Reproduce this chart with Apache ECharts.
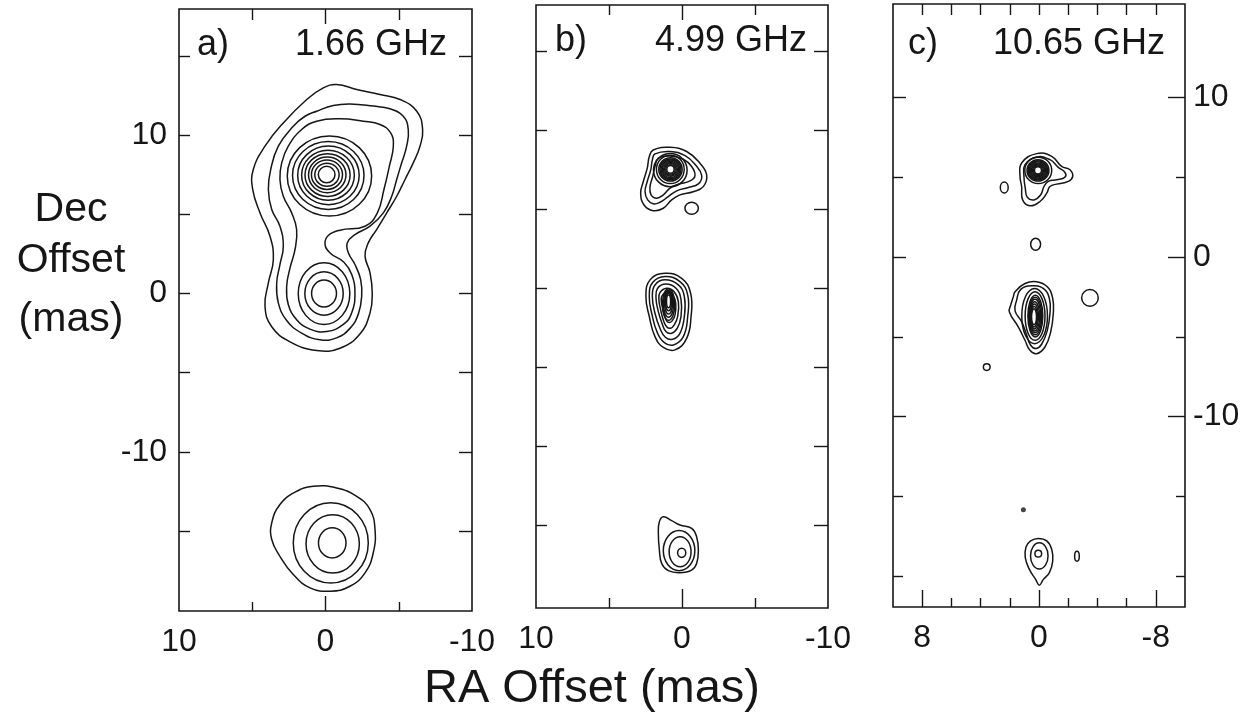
<!DOCTYPE html>
<html>
<head>
<meta charset="utf-8">
<script src="https://cdn.jsdelivr.net/npm/echarts@6/dist/echarts.min.js"></script>
<style>
  html, body { margin: 0; padding: 0; background: #ffffff; }
  #chart { width: 1249px; height: 717px; }
</style>
</head>
<body>
<div id="chart"></div>
<script>
// ---------- data (RA / Dec offsets in mas) ----------

// panel titles
const panelTags = ['a)', 'b)', 'c)'];
const panelFreqs = ['1.66 GHz', '4.99 GHz', '10.65 GHz'];

// tick values and labels
const raLabelsAB = [10, 0, -10];
const raTicksMajorAB = [0];
const raTicksMinorAB = [5, -5];
const raLabelsC = [8, 0, -8];
const raTicksMajorC = [8, 0, -8];
const raTicksMinorC = [6, 4, 2, -2, -4, -6];
const raTicksTopC = [8, 6, 4, 2, 0, -2, -4, -6, -8];
const decLabels = [10, 0, -10];
const decTicksAB = [15, 10, 5, 0, -5, -10, -15];
const decTicksMajorC = [10, 0, -10];
const decTicksMinorC = [5, -5, -15, -20];

// 1.66 GHz: irregular contours
const aContourPaths = [
  [[-0.76,13.19],[-2.13,12.88],[-3.72,12.56],[-5.09,12.25],[-6.23,11.51],[-6.63,10.35],[-6.45,9.30],[-5.99,8.25],[-5.43,7.20],[-4.86,6.14],[-4.18,5.09],[-3.49,4.04],[-2.92,3.20],[-2.70,2.36],[-3.04,1.31],[-3.19,0.04],[-3.04,-1.22],[-2.35,-2.55],[-0.99,-3.45],[0.60,-3.60],[2.42,-3.05],[3.67,-2.10],[4.13,-0.80],[3.90,0.67],[3.56,2.15],[3.79,3.62],[4.47,5.09],[4.97,6.57],[4.93,7.83],[4.13,9.30],[2.88,10.77],[1.28,12.25],[0.15,12.98]],
  [[0.60,11.51],[-0.53,11.87],[-1.67,11.97],[-3.26,11.83],[-4.40,11.66],[-5.31,11.19],[-5.65,10.35],[-5.54,9.30],[-5.20,8.25],[-4.86,7.20],[-4.52,6.14],[-3.95,5.09],[-3.04,4.25],[-2.01,3.72],[-1.49,3.20],[-1.56,2.57],[-2.01,1.83],[-2.40,0.88],[-2.47,-0.17],[-2.24,-1.30],[-1.67,-2.20],[-0.76,-2.80],[0.38,-2.92],[1.63,-2.50],[2.65,-1.70],[3.22,-0.59],[3.33,0.67],[3.11,1.83],[2.88,2.99],[3.11,4.25],[3.67,5.30],[3.90,6.57],[3.74,7.83],[3.22,9.30],[2.20,10.56],[1.40,11.19]],
  [[0.60,10.88],[-0.99,11.03],[-2.58,10.88],[-3.72,10.67],[-4.45,10.14],[-4.63,9.30],[-4.36,8.04],[-3.99,6.57],[-3.54,5.09],[-2.70,4.25],[-0.99,4.00],[-0.19,3.66],[0.03,3.09],[-0.35,2.53],[-1.26,1.98],[-1.79,1.20],[-2.01,0.04],[-1.79,-1.22],[-1.22,-1.95],[-0.08,-2.40],[1.06,-2.25],[1.97,-1.65],[2.54,-0.69],[2.65,0.46],[2.42,1.62],[2.08,2.78],[1.97,4.04],[2.31,5.09],[2.88,6.14],[3.11,7.20],[2.99,8.25],[2.54,9.30],[1.63,10.35]],
  [[0.83,-12.16],[-0.76,-12.27],[-2.13,-12.80],[-3.04,-13.64],[-3.38,-14.90],[-3.26,-16.37],[-2.70,-17.63],[-1.67,-18.48],[-0.31,-18.79],[1.06,-18.58],[2.20,-17.74],[3.11,-16.59],[3.67,-15.53],[3.67,-14.48],[3.11,-13.32],[2.08,-12.54]]
];
// 1.66 GHz: closed rings [centre RA, centre Dec, half-width RA, half-height Dec]
const aRings = [
  [-0.27,7.42,2.88,2.53],[-0.19,7.45,2.44,2.14],[-0.20,7.46,2.10,1.85],[-0.17,7.47,1.80,1.58],
  [-0.14,7.48,1.54,1.35],[-0.12,7.49,1.28,1.13],[-0.10,7.50,1.06,0.93],[-0.10,7.50,0.83,0.73],
  [-0.08,7.51,0.57,0.52],
  [0.10,0.00,1.76,1.95],[0.10,0.00,1.31,1.37],[0.10,0.00,0.85,0.85],
  [-0.36,-15.74,2.56,2.53],[-0.49,-15.80,1.82,1.84],[-0.46,-15.74,0.94,0.95]
];
const aDots = [];

// 4.99 GHz
const bContourPaths = [
  [[1.97,8.73],[0.82,8.90],[-0.32,8.63],[-1.23,7.89],[-1.69,7.15],[-1.46,6.41],[-0.77,6.09],[0.14,5.89],[0.71,5.57],[1.28,5.04],[1.97,4.89],[2.60,5.25],[2.83,5.99],[2.65,6.73],[2.38,7.58],[2.24,8.31]],
  [[1.85,8.48],[0.82,8.63],[-0.21,8.37],[-0.96,7.74],[-1.35,7.11],[-1.12,6.58],[-0.43,6.35],[0.36,6.14],[0.94,5.78],[1.51,5.42],[1.97,5.32],[2.35,5.57],[2.53,6.09],[2.38,6.73],[2.14,7.47],[2.03,8.10]],
  [[1.62,8.21],[0.82,8.35],[-0.09,8.14],[-0.66,7.68],[-0.89,7.11],[-0.55,6.77],[0.25,6.56],[0.82,6.31],[1.28,5.89],[1.73,5.68],[2.12,5.89],[2.19,6.41],[2.01,7.04],[1.85,7.68]],
  [[2.19,0.51],[1.16,0.93],[0.02,0.61],[-0.59,-0.34],[-0.62,-1.81],[-0.32,-3.19],[0.48,-3.92],[1.28,-3.76],[1.85,-3.08],[2.24,-1.81],[2.47,-0.55]],
  [[2.01,0.34],[1.16,0.72],[0.14,0.40],[-0.39,-0.44],[-0.39,-1.81],[-0.09,-3.08],[0.59,-3.61],[1.21,-3.46],[1.69,-2.83],[2.05,-1.71],[2.24,-0.55]],
  [[1.85,0.19],[1.16,0.51],[0.25,0.19],[-0.16,-0.55],[-0.16,-1.81],[0.14,-2.87],[0.64,-3.25],[1.14,-3.12],[1.51,-2.55],[1.85,-1.60],[2.03,-0.55]],
  [[1.67,-0.02],[1.10,0.25],[0.41,-0.02],[0.07,-0.72],[0.07,-1.81],[0.32,-2.55],[0.71,-2.87],[1.10,-2.76],[1.37,-2.24],[1.62,-1.50],[1.78,-0.65]],
  [[1.51,-0.30],[1.05,-0.02],[0.55,-0.23],[0.25,-0.87],[0.30,-1.81],[0.53,-2.34],[0.78,-2.55],[1.05,-2.45],[1.28,-2.03],[1.46,-1.39],[1.58,-0.76]],
  [[1.37,-0.51],[1.00,-0.23],[0.64,-0.44],[0.43,-0.97],[0.48,-1.71],[0.66,-2.07],[0.87,-2.19],[1.05,-2.09],[1.21,-1.71],[1.35,-1.18],[1.42,-0.80]],
  [[1.55,-14.79],[1.28,-14.47],[0.71,-14.72],[0.14,-15.00],[-0.66,-15.21],[-1.00,-15.74],[-1.12,-16.58],[-1.00,-17.43],[-0.66,-17.85],[0.14,-18.02],[0.94,-17.89],[1.39,-17.43],[1.55,-16.58],[1.62,-15.53]]
];
const bRings = [
  [0.80,7.45,1.15,1.05],[0.80,7.50,0.95,0.90],
  [0.79,7.50,0.80,0.74],[0.79,7.50,0.72,0.66],[0.79,7.50,0.64,0.59],[0.79,7.50,0.56,0.52],
  [0.79,7.50,0.48,0.44],[0.79,7.50,0.40,0.37],[0.79,7.50,0.32,0.30],[0.79,7.50,0.25,0.24],
  [-0.66,5.04,0.46,0.38],
  [0.92,-1.05,0.42,1.00],[0.92,-1.00,0.35,0.85],[0.92,-0.95,0.28,0.70],[0.92,-0.90,0.21,0.55],[0.92,-0.85,0.14,0.40],
  [0.20,-16.62,1.08,1.27],[0.13,-16.69,0.75,0.95],[0.02,-16.76,0.28,0.29]
];
const bDots = [];

// 10.65 GHz
const cContourPaths = [
  [[1.19,5.89],[0.16,6.48],[-0.87,6.31],[-1.55,5.68],[-2.12,5.47],[-2.31,5.05],[-2.01,4.74],[-1.21,4.57],[-0.75,4.42],[-0.53,4.00],[-0.07,3.48],[0.62,3.21],[1.12,3.58],[1.19,4.42],[1.30,5.05]],
  [[0.96,5.79],[0.16,6.27],[-0.75,6.10],[-1.32,5.62],[-1.78,5.30],[-1.78,5.01],[-1.21,4.84],[-0.64,4.74],[-0.34,4.42],[-0.12,3.90],[0.34,3.58],[0.80,3.75],[0.94,4.32],[1.03,5.05]],
  [[1.64,-2.18],[0.96,-1.66],[0.16,-1.55],[-0.57,-1.87],[-0.94,-2.60],[-0.98,-3.54],[-0.80,-4.70],[-0.41,-5.64],[0.16,-6.06],[0.62,-5.85],[0.96,-5.22],[1.42,-4.38],[2.03,-3.44],[1.94,-3.02],[1.76,-2.50]],
  [[1.25,-2.03],[0.50,-1.80],[-0.29,-1.97],[-0.71,-2.60],[-0.75,-3.54],[-0.57,-4.59],[-0.18,-5.47],[0.21,-5.74],[0.57,-5.53],[0.84,-4.91],[1.18,-4.07],[1.64,-3.38],[1.53,-2.70]],
  [[0.05,-17.65],[-0.53,-17.80],[-0.87,-18.32],[-0.94,-19.06],[-0.71,-19.79],[-0.30,-20.21],[-0.02,-20.57],[0.23,-20.21],[0.66,-19.58],[0.94,-18.85],[0.89,-18.18],[0.57,-17.80]]
];
const cRings = [
  [0.05,5.43,0.92,0.83],
  [0.07,5.43,0.75,0.67],[0.07,5.43,0.675,0.60],[0.07,5.43,0.60,0.54],[0.07,5.43,0.525,0.47],
  [0.07,5.43,0.45,0.40],[0.07,5.43,0.375,0.34],[0.07,5.43,0.30,0.27],[0.07,5.43,0.24,0.22],
  [2.38,4.36,0.27,0.34],[0.23,0.80,0.34,0.38],[-3.49,-2.56,0.57,0.52],[3.58,-6.90,0.23,0.21],[-2.60,-18.76,0.16,0.31],
  [0.30,-3.70,0.88,1.73],[0.27,-3.70,0.68,1.52],[0.25,-3.70,0.51,1.31],[0.26,-3.70,0.45,1.18],
  [0.27,-3.70,0.39,1.05],[0.29,-3.72,0.33,0.92],[0.31,-3.73,0.27,0.78],[0.33,-3.74,0.22,0.64],[0.34,-3.75,0.17,0.50],
  [-0.02,-18.74,0.60,0.82],[0.05,-18.60,0.23,0.21]
];
const cDots = [[1.07,-15.85]];

// ---------- layout ----------
const FONT = '"Liberation Sans", Arial, Helvetica, sans-serif';
const INK = '#161616';

const panels = [
  {
    box: { left: 179, top: 9, width: 293, height: 602 }, yMin: -20.04, yMax: 17.96,
    paths: aContourPaths, rings: aRings, dots: aDots,
    bottom: { major: raTicksMajorAB, minor: raTicksMinorAB, majorLen: 15, minorLen: 9, labels: raLabelsAB },
    top: { major: raTicksMajorAB, minor: raTicksMinorAB, majorLen: 15, minorLen: 11 },
    left: { major: decTicksAB, minor: [], majorLen: 11, minorLen: 0, labels: decLabels },
    right: { major: decTicksAB, minor: [], majorLen: 13, minorLen: 0 }
  },
  {
    box: { left: 536, top: 5, width: 292, height: 603 }, yMin: -20.25, yMax: 17.9,
    paths: bContourPaths, rings: bRings, dots: bDots,
    bottom: { major: raTicksMajorAB, minor: raTicksMinorAB, majorLen: 19, minorLen: 10, labels: raLabelsAB },
    top: { major: raTicksMajorAB, minor: raTicksMinorAB, majorLen: 15, minorLen: 10 },
    left: { major: decTicksAB, minor: [], majorLen: 11, minorLen: 0 },
    right: { major: decTicksAB, minor: [], majorLen: 14, minorLen: 0 }
  },
  {
    box: { left: 893, top: 4, width: 292, height: 603 }, yMin: -21.94, yMax: 15.86,
    paths: cContourPaths, rings: cRings, dots: cDots,
    bottom: { major: raTicksMajorC, minor: raTicksMinorC, majorLen: 17, minorLen: 9, labels: raLabelsC },
    top: { major: raTicksTopC, minor: [], majorLen: 11, minorLen: 0 },
    left: { major: decTicksMajorC, minor: decTicksMinorC, majorLen: 13, minorLen: 10 },
    right: { major: decTicksMajorC, minor: decTicksMinorC, majorLen: 17, minorLen: 9, labels: decLabels }
  }
];

const tickLine = { color: INK, width: 1.4 };
const labelStyle = { fontSize: 32, fontFamily: FONT, color: INK };

const grids = [], xAxes = [], yAxes = [], series = [];

function makeAxis(dim, g, pos, ticks, len, labels, extent) {
  const ax = {
    gridIndex: g, type: 'value', position: pos,
    min: extent[0], max: extent[1],
    axisLine: { show: false, onZero: false }, splitLine: { show: false },
    axisTick: { show: ticks.length > 0, inside: true, length: len, customValues: ticks, lineStyle: tickLine },
    axisLabel: labels
      ? Object.assign({ show: true, customValues: labels, margin: dim === 'x' ? 15 : (pos === 'left' ? 12 : 8) }, labelStyle)
      : { show: false }
  };
  if (dim === 'x') ax.inverse = true;
  return ax;
}

panels.forEach(function (p, g) {
  grids.push(Object.assign({ show: true, borderColor: INK, borderWidth: 1.6, backgroundColor: 'transparent' }, p.box));
  const xExt = [-10, 10], yExt = [p.yMin, p.yMax];
  const xMain = xAxes.length;
  xAxes.push(makeAxis('x', g, 'bottom', p.bottom.major, p.bottom.majorLen, p.bottom.labels, xExt));
  xAxes.push(makeAxis('x', g, 'bottom', p.bottom.minor, p.bottom.minorLen, null, xExt));
  xAxes.push(makeAxis('x', g, 'top', p.top.major, p.top.majorLen, null, xExt));
  xAxes.push(makeAxis('x', g, 'top', p.top.minor, p.top.minorLen, null, xExt));
  const yMain = yAxes.length;
  yAxes.push(makeAxis('y', g, 'left', p.left.major, p.left.majorLen, p.left.labels, yExt));
  yAxes.push(makeAxis('y', g, 'left', p.left.minor, p.left.minorLen, null, yExt));
  yAxes.push(makeAxis('y', g, 'right', p.right.major, p.right.majorLen, p.right.labels, yExt));
  yAxes.push(makeAxis('y', g, 'right', p.right.minor, p.right.minorLen, null, yExt));

  // irregular contours: closed smoothed polygons through the traced vertices
  series.push({
    type: 'custom', coordinateSystem: 'cartesian2d', xAxisIndex: xMain, yAxisIndex: yMain,
    silent: true, animation: false,
    data: p.paths.map(function (path) { return path[0]; }),
    renderItem: function (params, api) {
      const pts = p.paths[params.dataIndex].map(function (v) { return api.coord(v); });
      return {
        type: 'polygon',
        shape: { points: pts, smooth: 0.45 },
        style: { fill: 'none', stroke: INK, lineWidth: 1.5 }
      };
    }
  });
  // closed rings around the compact components
  series.push({
    type: 'custom', coordinateSystem: 'cartesian2d', xAxisIndex: xMain, yAxisIndex: yMain,
    silent: true, animation: false,
    data: p.rings,
    renderItem: function (params, api) {
      const c = api.coord([api.value(0), api.value(1)]);
      const s = api.size([api.value(2) * 2, api.value(3) * 2], [api.value(0), api.value(1)]);
      return {
        type: 'ellipse',
        shape: { cx: c[0], cy: c[1], rx: s[0] / 2, ry: s[1] / 2 },
        style: { fill: 'none', stroke: INK, lineWidth: 1.5 }
      };
    }
  });
  if (p.dots.length) {
    series.push({
      type: 'scatter', xAxisIndex: xMain, yAxisIndex: yMain, silent: true, animation: false,
      symbol: 'circle', symbolSize: 5, itemStyle: { color: INK }, data: p.dots
    });
  }
});

// panel captions and axis titles
const titleFont = function (size) { return size + 'px ' + FONT; };
const captionPos = [
  { tagX: 197, freqX: 447, y: 45 },
  { tagX: 555, freqX: 807, y: 41 },
  { tagX: 908, freqX: 1165, y: 44 }
];
const graphics = [];
captionPos.forEach(function (c, i) {
  graphics.push({ type: 'text', x: c.tagX, y: c.y, silent: true,
    style: { text: panelTags[i], font: titleFont(36), fill: INK, textAlign: 'left', textVerticalAlign: 'middle' } });
  graphics.push({ type: 'text', x: c.freqX, y: c.y, silent: true,
    style: { text: panelFreqs[i], font: titleFont(36), fill: INK, textAlign: 'right', textVerticalAlign: 'middle' } });
});
[['Dec', 210], ['Offset', 261], ['(mas)', 320]].forEach(function (t) {
  graphics.push({ type: 'text', x: 71, y: t[1], silent: true,
    style: { text: t[0], font: titleFont(41), fill: INK, textAlign: 'center', textVerticalAlign: 'middle' } });
});
graphics.push({ type: 'text', x: 592, y: 689, silent: true,
  style: { text: 'RA Offset (mas)', font: titleFont(47), fill: INK, textAlign: 'center', textVerticalAlign: 'middle' } });

const chart = echarts.init(document.getElementById('chart'), null, { renderer: 'canvas' });
chart.setOption({
  backgroundColor: '#ffffff',
  animation: false,
  grid: grids,
  xAxis: xAxes,
  yAxis: yAxes,
  series: series,
  graphic: graphics
});
</script>
</body>
</html>
